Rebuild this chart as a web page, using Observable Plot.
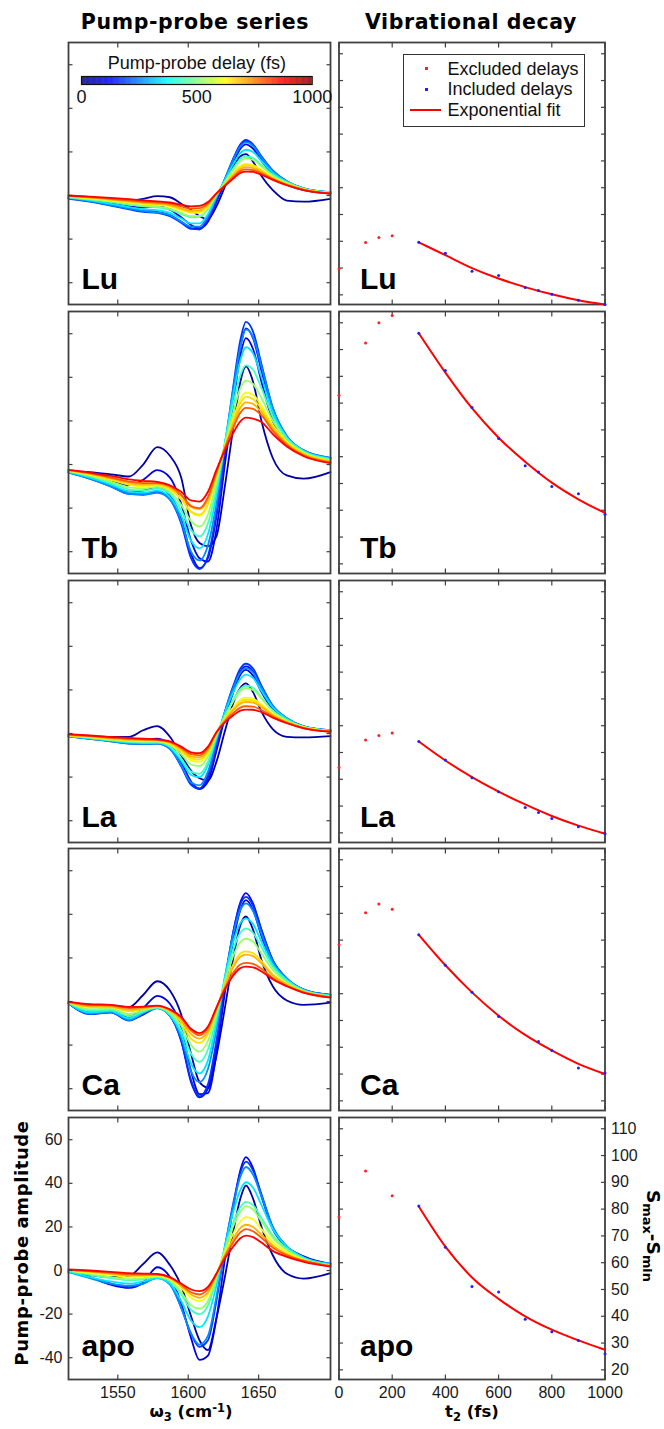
<!DOCTYPE html>
<html>
<head>
<meta charset="utf-8">
<script src="https://cdn.jsdelivr.net/npm/d3@7"></script>
<script src="https://cdn.jsdelivr.net/npm/@observablehq/plot@0.6"></script>
<style>
html,body{margin:0;padding:0;background:#fff;}
#fig{position:relative;width:664px;height:1429px;overflow:hidden;background:#fff;}
.txt{position:absolute;white-space:nowrap;line-height:1;color:#000;}
.sub{font-size:70%;position:relative;top:0.32em;}
.sup{font-size:70%;position:relative;top:-0.45em;}
</style>
</head>
<body>
<div id="fig"></div>
<script>
// ---------------- data ----------------
const wavenumbers = [1515, 1530, 1545, 1558, 1568, 1578, 1587, 1595, 1602, 1608, 1614, 1620, 1626, 1632, 1637, 1641, 1646, 1652, 1660, 1670, 1682, 1701];

const delaysFull = [0, 100, 150, 200, 300, 400, 500, 600, 700, 750, 800, 900, 1000];
const delaysCa = [0, 100, 150, 200, 300, 400, 500, 600, 750, 800, 900, 1000];
const delaysApo = [0, 100, 200, 300, 400, 500, 600, 700, 800, 900, 1000];

const luSpectra = [
  [-0.8,-1.5,-2,-2.3,-1.5,-0.3,-0.8,-3.8,-6.5,-9.5,-10.8,-5,4,13,18,19,15.5,9,2.5,-2.3,-2.8,-1.5],
  [-1,-2,-3.5,-5,-5.5,-5,-6.5,-10,-13.5,-15,-12,-3,6,15,21.5,23.5,21.5,16,9.5,5,2.5,1],
  [-1.2,-2.5,-4.3,-6,-7,-7.5,-9,-12,-15,-15.5,-11,-2,7,16.5,23,25,23,17.5,11,6,3,1.5],
  [-1.5,-2.8,-4.6,-6.3,-7.5,-8,-9.5,-12.5,-15.3,-15.5,-10.5,-1.5,7.5,17,23.5,25.5,23.5,18,11.5,6.5,3.3,1.5],
  [-1.3,-2.6,-4.4,-6,-7.2,-7.8,-9,-12,-14.3,-14.3,-9.5,-1,7.5,16.5,22.5,24.5,22.8,17.5,11.3,6.5,3.3,1.5],
  [-1,-2.2,-3.8,-5.3,-6.3,-6.8,-8,-10.5,-12.8,-12.8,-8.5,-0.5,7,14.5,19.5,21,20,15.8,10.5,6.3,3.2,1.5],
  [-0.8,-1.8,-3,-4.2,-5,-5.5,-6.5,-8.5,-10,-9.8,-6.3,0.3,6.3,12.5,16.8,18,17.2,14,9.5,6,3,1.3],
  [-0.6,-1.6,-2.7,-3.8,-4.6,-5.1,-6,-8,-9.5,-9.3,-6,0.5,6,11.8,15.8,17,16.3,13.3,9.2,5.8,3,1.3],
  [-0.4,-1.2,-2.2,-3.1,-3.8,-4.3,-5,-6.7,-8,-7.8,-5,0.6,5.3,10.2,13.5,14.5,14,11.8,8.3,5.4,2.8,1.2],
  [-0.3,-1.1,-2,-2.9,-3.6,-4,-4.7,-6.3,-7.5,-7.3,-4.6,0.7,5.2,9.8,13,14,13.5,11.4,8.1,5.3,2.8,1.1],
  [-0.2,-0.9,-1.8,-2.6,-3.2,-3.7,-4.4,-5.9,-7,-6.8,-4.2,0.8,5,9.2,12.2,13,12.6,10.8,7.8,5.1,2.7,1],
  [-0.1,-0.7,-1.5,-2.2,-2.8,-3.2,-3.8,-5,-6,-5.8,-3.6,0.9,4.7,8.5,11.3,12,11.7,10.2,7.5,4.9,2.6,1],
  [0,-0.5,-1.1,-1.7,-2.2,-2.7,-3.2,-4.2,-5,-4.8,-3,1,4.4,7.8,10.4,11,10.8,9.5,7.2,4.7,2.5,0.8]
];

const tbSpectra = [
  [-3,-3.5,-4.5,-5.5,0,8,4,-6,-28,-36,-37.5,-33,-10,17,38,45,38,20,3,-5,-6.5,-3.5],
  [-3.2,-5,-7.5,-9.5,-7,-2.6,-6,-18,-35,-43,-44.5,-30,0,28,50,58,53,38,20,10,5,2.5],
  [-3.4,-6,-9.5,-12.5,-12,-10.5,-14,-25,-41,-47.5,-43,-24,5,33,54,62.5,58,43,24,12,6,2.8],
  [-3.6,-6.5,-10,-13.5,-13.5,-12.5,-16,-27,-43,-48,-42,-22,7,36,57,65.4,61,46,26,13,6.5,3],
  [-3.6,-6.5,-10,-13.5,-14,-13,-16,-26,-40,-44,-37,-18,9,35,54,62,58.5,45,26,13,6.5,3],
  [-3.4,-6,-9.2,-12.5,-13,-12,-15,-23.5,-35,-38.5,-32,-14,10,32,48,53.8,51,40,24,12.5,6.2,2.8],
  [-3.2,-5.5,-8.5,-11.5,-12,-11,-13.5,-21,-30,-33,-27,-11,9.5,28,41,45.5,43.5,35,22,12,6,2.5],
  [-3,-5,-7.8,-10.5,-11,-10.2,-12.5,-18.5,-26,-28.5,-23,-8,9,24,35,38.5,37,30.5,20,11,5.5,2],
  [-2.8,-4.6,-7,-9.3,-10,-9.5,-11.5,-16,-22,-23.5,-18.5,-5.5,8.5,21,30,33,32,27,18,10.5,5.2,1.8],
  [-2.8,-4.4,-6.8,-9,-9.7,-9.3,-11.2,-15.5,-21.5,-23,-18,-5,8,20,28.2,31,30,25.5,17.5,10,5,1.6],
  [-2.7,-4.2,-6.3,-8.3,-9,-8.8,-10.5,-14.3,-19.5,-20.5,-16,-4,7.8,18.5,26,28.5,27.8,24,16.5,9.5,4.6,1.3],
  [-2.6,-4,-6,-7.8,-8.5,-8.5,-10,-13.8,-19,-20,-15,-3.5,7.5,17,23.8,26,25.5,22.5,15.5,9,4.2,1],
  [-2.5,-3.7,-5.2,-6.8,-7.5,-8,-9.5,-12.5,-16.5,-17,-12.5,-2.5,6.5,14.5,19.8,21.5,21,19.5,14,8.3,3.8,0.6]
];

const laSpectra = [
  [-0.8,-1.2,-1.5,-1.5,1.5,3.4,-1.5,-10,-17,-20.5,-21.5,-13,1,14,21,23,19,10,2,-1.5,-1.8,-1.2],
  [-1,-1.8,-2.8,-3.5,-3,-2.3,-5,-13,-22,-25.4,-22,-8,7,19,27,29.2,26.5,19,11,6,3,1.3],
  [-1.2,-2.2,-3.3,-4.3,-4.5,-4.2,-6.5,-14.5,-23,-25.4,-20,-5.5,9,21,28.5,30.8,28.5,21,12,6.5,3.2,1.5],
  [-1.3,-2.4,-3.6,-4.6,-4.8,-4.6,-7,-15,-23.5,-25.2,-19,-4.5,10,22,29.8,32,29.8,22,12.8,7,3.3,1.5],
  [-1.3,-2.4,-3.6,-4.6,-4.8,-4.6,-7,-14.5,-22.5,-23.8,-17.5,-3.5,10,21,28,30,28,21,12.5,7,3.3,1.5],
  [-1.2,-2.2,-3.3,-4.2,-4.4,-4.3,-6.3,-12.5,-19,-20,-14.5,-2,9.5,19,25,27,25.5,19.5,12,6.8,3.2,1.4],
  [-1.1,-2,-3,-3.8,-4,-4,-6,-11.5,-17.5,-18.5,-13,-1.5,8,15.5,20.5,22,21,16.5,10.5,6.2,3,1.3],
  [-1,-1.8,-2.8,-3.5,-3.7,-3.7,-5.3,-9.5,-14.2,-15,-10.5,-0.5,7.8,14.8,19.5,20.8,20,16,10.2,6,3,1.2],
  [-0.9,-1.6,-2.5,-3.2,-3.4,-3.4,-4.8,-8.3,-12.3,-13,-9,0,6.8,12,15.5,16.5,16,13.3,9,5.5,2.8,1.1],
  [-0.8,-1.5,-2.4,-3,-3.2,-3.3,-4.5,-7.8,-11.4,-12,-8.3,0.2,6.5,11.3,14.6,15.5,15.1,12.7,8.7,5.3,2.7,1],
  [-0.7,-1.3,-2.2,-2.8,-3,-3.1,-4.2,-7.2,-10.5,-11,-7.5,0.4,6.2,10.7,13.7,14.5,14.2,12.1,8.4,5.2,2.6,1],
  [-0.5,-1.1,-1.9,-2.4,-2.7,-2.9,-3.9,-6.6,-9.5,-10,-6.7,0.5,5.6,9.4,11.9,12.5,12.3,10.8,7.8,5,2.5,0.9],
  [-0.3,-0.9,-1.6,-2,-2.4,-2.7,-3.6,-6,-8.6,-9,-6,0.6,5.1,8.4,10.5,11,10.9,9.8,7.3,4.7,2.4,0.8]
];

const caSpectra = [
  [-0.8,-2,-2,-2.5,3,9.3,5,-6,-24,-37,-39.5,-25,-3,20,35,39,33,19,7,0.5,-1.5,-0.5],
  [-0.8,-5,-4.5,-7,-3,2.6,-1,-12,-32,-42.5,-42,-24,4,28,42,46.5,42,30,17,9.5,5,2.5],
  [-0.8,-5.5,-5,-8.5,-6,-3,-6.5,-18,-37,-44,-40,-20,8,32,45.5,49.7,45,33,19,10.5,5.5,3],
  [-0.8,-5.8,-5,-8.8,-5.5,-2.8,-6.5,-18,-36,-43.5,-38,-18,9,32,44.5,48,44,32.5,19,10.5,5.5,3],
  [-0.8,-5.5,-4.8,-8.5,-5.3,-3,-6.5,-16.5,-32,-37,-31,-13,11,31,42,45,41.5,31,18.5,10.5,5.5,3],
  [-0.7,-5,-4.4,-7.8,-5,-3,-6.3,-15,-28.5,-33,-27,-10,11,27.5,36,38,35.5,27.5,17,10,5.3,2.8],
  [-0.6,-4.2,-3.8,-6.8,-4.5,-2.8,-5.8,-13,-24,-27.7,-22,-7.5,10,24,31.5,33.4,31.5,25,16,9.5,5,2.6],
  [-0.5,-3.5,-3.2,-5.8,-4,-2.6,-5.2,-11,-20,-23,-18,-5.5,9,21,27.3,28.8,27.5,22,14.5,8.8,4.8,2.4],
  [-0.4,-2.6,-2.6,-4.5,-3.3,-2.3,-4.5,-9.5,-17,-19,-15,-4,7.5,17,22,23,22.2,18.5,12.5,8,4.5,2.2],
  [-0.3,-2.2,-2.3,-3.8,-3,-2.2,-4.2,-8.5,-15,-17,-13.5,-3.5,7,15.8,20.5,21.5,20.8,17.5,12,7.7,4.4,2.1],
  [-0.2,-1.6,-1.8,-3,-2.6,-2,-3.8,-7.5,-13.3,-15.5,-12,-3,6,13.2,17,17.7,17.3,15,10.8,7.2,4.2,1.9],
  [-0.2,-1.2,-1.5,-2.5,-2.3,-1.9,-3.6,-7,-12.5,-14.5,-11.5,-2.8,5.5,12,15.3,16,15.7,13.8,10.2,7,4,1.8]
];

const apoSpectra = [
  [-0.5,-2,-3,-2.5,3,8.3,2.5,-7,-21,-32,-36.5,-22,-3,18,33,39,33,20,7,-1.5,-3.7,-1.2],
  [-0.5,-3,-6.5,-8,-5.5,1.5,-3,-15,-31,-41,-39,-22,5,29,46,52,47,34,19,11,6.5,3],
  [-0.5,-3,-6,-7.5,-6,-3,-6,-17,-29,-35,-32,-14,10,31,45,50,46,35,20,11,6,3],
  [-0.8,-3.5,-6,-7,-6,-3.5,-6.5,-17,-29,-34,-30,-12,11,30,43,47.5,44,34,20,11,6,3],
  [-0.5,-3,-5,-6,-5,-3.5,-6,-14,-23,-26,-21,-7,11,27,37,40.5,38,30,19,11,6,3],
  [-0.3,-2,-3.5,-4.5,-4,-3,-5,-11,-18,-20,-16,-4,10,22,29,31.5,30,24,16,10,5.5,2.5],
  [-0.2,-1.5,-3,-4,-3.5,-2.8,-4.5,-10,-16,-17.5,-14,-3,9.5,20.5,27,29.5,28,22.5,15,9.5,5,2.5],
  [0,-1,-2,-3,-2.8,-2.3,-4,-8,-12.5,-14,-11,-2,8,17,22.5,24.5,23.5,19,13,8.5,5,2],
  [0.2,-0.5,-1.5,-2.3,-2.2,-2,-3.5,-7,-11,-12.5,-10,-2,7,14.5,19.5,21,20,16.5,11.5,7.5,4.5,2],
  [0.3,-0.3,-1,-1.8,-1.8,-1.8,-3.2,-6.5,-10,-11,-8.5,-1.5,6.5,13,17.5,19,18,15,10.5,7,4.5,2],
  [0.5,0,-0.6,-1.2,-1.4,-1.6,-3,-6,-8.7,-9.5,-7.5,-1.5,5.5,11,14.8,16,15.3,12.8,9,6.3,4,1.8]
];

// vibrational decay (S_max - S_min)
const excludedDelays = [0, 100, 150, 200];
const excludedDelaysApo = [0, 100, 200];
const includedDelays = [300, 400, 500, 600, 700, 750, 800, 900, 1000];
const includedDelaysCa = [300, 400, 500, 600, 750, 800, 900, 1000];
const includedDelaysApo = [300, 400, 500, 600, 700, 800, 900, 1000];
const fitDelays = [300, 400, 500, 600, 700, 800, 900, 1000];

const luExcluded = [29.7, 39.5, 41.4, 42.1];
const luIncluded = [39.6, 35.5, 28.8, 27.2, 22.7, 21.6, 20.2, 18, 16.4];
const luFit = [39.6, 34.8, 30, 26.1, 22.9, 20.2, 18, 16.4];

const tbExcluded = [82.9, 102.4, 110, 112.7];
const tbIncluded = [106.1, 92.2, 78.4, 66.8, 56.6, 54.3, 48.9, 46.2, 38.5];
const tbFit = [106.1, 91.4, 78.1, 67.1, 58.1, 50.3, 44.1, 39];

const laExcluded = [44.4, 54.7, 56.3, 57.3];
const laIncluded = [54.1, 47.2, 40.6, 35.3, 29.5, 27.6, 25.4, 22.3, 19.7];
const laFit = [54.1, 47, 40.8, 35.4, 30.6, 26.3, 22.7, 19.7];

const caExcluded = [78.3, 90.2, 93.5, 91.5];
const caIncluded = [82, 70.6, 60.5, 51.5, 42.2, 38.8, 32.3, 30.4];
const caFit = [82, 70.6, 60.5, 51.8, 44.6, 38.8, 33.8, 30];

const apoExcluded = [77.1, 94.2, 85];
const apoIncluded = [81.2, 65.8, 51.1, 49.1, 38.9, 34.2, 31, 26];
const apoFit = [81, 66, 54.5, 46.5, 40, 35, 31, 27.5];

// ticks and labels
const omegaTicks = [1550, 1600, 1650];
const amplitudeTicks = [-40, -20, 0, 20, 40, 60];
const delayTicks = [0, 200, 400, 600, 800, 1000];
const decayTicks = [20, 30, 40, 50, 60, 70, 80, 90, 100, 110];
const colorbarTicks = [0, 500, 1000];
const sampleNames = ["Lu", "Tb", "La", "Ca", "apo"];
const legendLabels = ["Excluded delays", "Included delays", "Exponential fit"];

// jet colormap
const jetColors = ["#000080", "#0000ff", "#00ffff", "#ffff00", "#ff0000", "#800000"];
const jetBarDomain = [0, 125, 375, 625, 875, 1000];
const jetLineDomain = [-60, 143, 429, 714, 1000, 1143];

// ---------------- layout ----------------
const fig = document.getElementById("fig");
const FRAME = "#404040";
const SANS = "'Liberation Sans', Arial, Helvetica, sans-serif";
const BOLD = "'DejaVu Sans', sans-serif";
const rowTops = [42, 310.75, 579.5, 848.25, 1117];
const PANEL_H = 262;
const fmt = d => String(d);
const blank = () => "";

function put(el, left, top) {
  el.style.position = "absolute";
  el.style.left = left + "px";
  el.style.top = top + "px";
  fig.appendChild(el);
}

function inwardTicks(xt, yt) {
  const o = {tickSize: -4.5, tickFormat: blank, label: null, stroke: FRAME, strokeWidth: 1.2};
  return [
    Plot.axisX({...o, ticks: xt, anchor: "bottom"}),
    Plot.axisX({...o, ticks: xt, anchor: "top"}),
    Plot.axisY({...o, ticks: yt, anchor: "left"}),
    Plot.axisY({...o, ticks: yt, anchor: "right"})
  ];
}

function panelLabel(name, dx) {
  return Plot.text([name], {
    text: d => d, frameAnchor: "bottom-left", dx, dy: name === "apo" ? -24 : -15.5,
    lineAnchor: "bottom", textAnchor: "start", fontSize: 30, fontWeight: "bold",
    fontFamily: SANS, fill: "#000"
  });
}

function spectraPanel(name, delays, spectra, row, bottom) {
  const rows = [];
  delays.forEach((d, i) => spectra[i].forEach((v, j) => rows.push({w: wavenumbers[j], v, delay: d})));
  const mt = 4, mb = bottom ? 44 : 4;
  const marks = [
    Plot.line(rows, {x: "w", y: "v", z: "delay", stroke: "delay", curve: "monotone-x", strokeWidth: 1.8}),
    ...inwardTicks(omegaTicks, amplitudeTicks)
  ];
  if (bottom) {
    marks.push(Plot.axisX({ticks: omegaTicks, anchor: "bottom", tickSize: 0, tickPadding: 7, tickFormat: fmt, label: null, fontSize: 16}));
    marks.push(Plot.axisY({ticks: amplitudeTicks, anchor: "left", tickSize: 0, tickPadding: 6, tickFormat: fmt, label: null, fontSize: 16}));
  }
  marks.push(Plot.frame({stroke: FRAME, strokeWidth: 1.8}));
  marks.push(panelLabel(name, 13));
  const plot = Plot.plot({
    width: 336, height: PANEL_H + mt + mb,
    marginTop: mt, marginBottom: mb, marginLeft: 68, marginRight: 6,
    style: {background: "transparent", fontFamily: SANS, fontSize: "16px", color: "#1a1a1a"},
    x: {domain: [1515, 1701], label: null},
    y: {domain: [-50, 70.2], label: null},
    color: {type: "linear", domain: jetLineDomain, range: jetColors, interpolate: "rgb"},
    marks
  });
  put(plot, 0, rowTops[row] - mt);
}

function decayPanel(name, exT, exS, inT, inS, fitS, row, bottom) {
  const ex = exT.map((t, i) => ({t, s: exS[i]}));
  const inc = inT.map((t, i) => ({t, s: inS[i]}));
  const fit = fitDelays.map((t, i) => ({t, s: fitS[i]}));
  const mt = 4, mb = bottom ? 44 : 4;
  const marks = [
    Plot.frame({stroke: FRAME, strokeWidth: 1.8}),
    ...inwardTicks(delayTicks, decayTicks),
    Plot.line(fit, {x: "t", y: "s", stroke: "#ff0000", strokeWidth: 2, curve: "monotone-x"}),
    Plot.dot(ex, {x: "t", y: "s", r: 1.5, fill: "#ff1f1f"}),
    Plot.dot(inc, {x: "t", y: "s", r: 1.5, fill: "#1f1fff"})
  ];
  if (bottom) {
    marks.push(Plot.axisX({ticks: delayTicks, anchor: "bottom", tickSize: 0, tickPadding: 7, tickFormat: fmt, label: null, fontSize: 16}));
    marks.push(Plot.axisY({ticks: decayTicks, anchor: "right", tickSize: 0, tickPadding: 6, tickFormat: fmt, label: null, fontSize: 16}));
  }
  marks.push(panelLabel(name, 21));
  const plot = Plot.plot({
    width: 336, height: PANEL_H + mt + mb,
    marginTop: mt, marginBottom: mb, marginLeft: 10.5, marginRight: 59.5,
    style: {background: "transparent", fontFamily: SANS, fontSize: "16px", color: "#1a1a1a"},
    x: {domain: [0, 1000], label: null},
    y: {domain: [16.4, 114.2], label: null},
    marks
  });
  put(plot, 328, rowTops[row] - mt);
}

// left column
spectraPanel(sampleNames[0], delaysFull, luSpectra, 0, false);
spectraPanel(sampleNames[1], delaysFull, tbSpectra, 1, false);
spectraPanel(sampleNames[2], delaysFull, laSpectra, 2, false);
spectraPanel(sampleNames[3], delaysCa, caSpectra, 3, false);
spectraPanel(sampleNames[4], delaysApo, apoSpectra, 4, true);

// right column
decayPanel(sampleNames[0], excludedDelays, luExcluded, includedDelays, luIncluded, luFit, 0, false);
decayPanel(sampleNames[1], excludedDelays, tbExcluded, includedDelays, tbIncluded, tbFit, 1, false);
decayPanel(sampleNames[2], excludedDelays, laExcluded, includedDelays, laIncluded, laFit, 2, false);
decayPanel(sampleNames[3], excludedDelays, caExcluded, includedDelaysCa, caIncluded, caFit, 3, false);
decayPanel(sampleNames[4], excludedDelaysApo, apoExcluded, includedDelaysApo, apoIncluded, apoFit, 4, true);

// colorbar (inside the Lu spectra panel)
const cbCells = d3.range(0, 1000, 2);
const colorbar = Plot.plot({
  width: 274, height: 26 + 8 + 24,
  marginTop: 26, marginBottom: 24, marginLeft: 21, marginRight: 22.3,
  style: {background: "transparent", fontFamily: SANS, fontSize: "18px", color: "#111"},
  x: {domain: [0, 1000], label: null},
  color: {type: "linear", domain: jetBarDomain, range: jetColors, interpolate: "rgb"},
  marks: [
    Plot.rect(cbCells, {x1: d => d, x2: d => Math.min(d + 2.6, 1000), fill: d => d + 1}),
    Plot.frame({stroke: "#111", strokeWidth: 1.2}),
    Plot.axisX({ticks: colorbarTicks, anchor: "bottom", tickSize: 0, tickPadding: 6, tickFormat: fmt, label: null, fontSize: 18}),
    Plot.text(["Pump-probe delay (fs)"], {text: d => d, frameAnchor: "top", dy: -7.7, lineAnchor: "bottom", fontSize: 18})
  ]
});
put(colorbar, 60, 50);

// legend (inside the Lu decay panel)
const legend = document.createElement("div");
legend.style.cssText = "width:182px;height:73px;border:1.3px solid #333;background:#fff;box-sizing:border-box;";
function legendPiece(css) {
  const e = document.createElement("div");
  e.style.cssText = "position:absolute;" + css;
  legend.appendChild(e);
  return e;
}
legendPiece("left:20.9px;top:12.2px;width:3px;height:3px;background:#ff1f1f;");
legendPiece("left:20.9px;top:33.2px;width:3px;height:3px;background:#1f1fff;");
legendPiece("left:5.7px;top:54.4px;width:31px;height:2px;background:#ff0000;");
[4.5, 25, 45.5].forEach((top, i) => {
  const t = legendPiece(`left:43.4px;top:${top}px;font-family:${SANS};font-size:18px;line-height:1;white-space:nowrap;color:#111;`);
  t.textContent = legendLabels[i];
});
put(legend, 403, 54);

// texts
function addText(html, {x, y, size, family = BOLD, weight = "bold", rotate = 0, spacing = 0}) {
  const d = document.createElement("div");
  d.className = "txt";
  d.innerHTML = html;
  d.style.fontSize = size + "px";
  d.style.fontFamily = family;
  d.style.fontWeight = weight;
  d.style.letterSpacing = spacing + "px";
  d.style.left = x + "px";
  if (rotate) {
    d.style.top = y + "px";
    d.style.transform = `translate(-50%,-50%) rotate(${rotate}deg)`;
  } else {
    d.style.top = (y - 0.846 * size) + "px";
    d.style.transform = "translateX(-50%)";
  }
  fig.appendChild(d);
}
addText("Pump-probe series", {x: 195, y: 29.3, size: 20.5, spacing: 0.6});
addText("Vibrational decay", {x: 471, y: 29.3, size: 20.5, spacing: 0.6});
addText('ω<span class="sub">3</span> (cm<span class="sup">-1</span>)', {x: 191, y: 1418, size: 16.5});
addText('t<span class="sub">2</span> (fs)', {x: 472, y: 1418, size: 16.5});
addText("Pump-probe amplitude", {x: 21.5, y: 1243, size: 18, rotate: -90, spacing: 0.6});
addText('S<span class="sub">max</span>-S<span class="sub">min</span>', {x: 653, y: 1236, size: 18.5, rotate: 90});
</script>
</body>
</html>
